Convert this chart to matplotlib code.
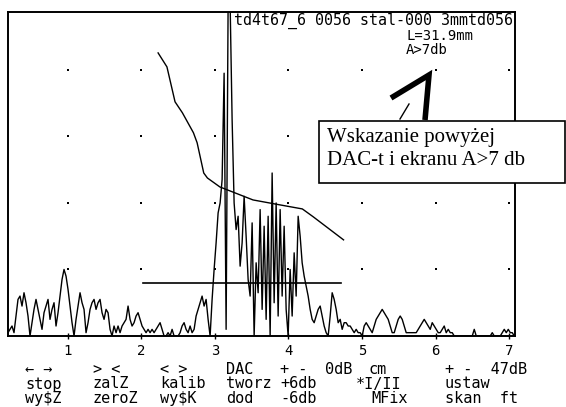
import numpy as np
import matplotlib.pyplot as plt
from matplotlib.lines import Line2D
from matplotlib.patches import Rectangle

# A-scan amplitude [% of screen], evenly sampled between x_first and x_last [cm]
amp = [
    1, 2, 3, 1, 6, 11, 12, 9, 13, 10,
    6, 0, 4, 8, 11, 8, 5, 2, 7, 9,
    11, 5, 8, 10, 3, 7, 12, 17, 20, 18,
    14, 9, 4, 0, 5, 9, 13, 10, 8, 1,
    4, 8, 10, 11, 8, 10, 11, 7, 5, 8,
    7, 2, 0, 3, 1, 3, 1, 3, 4, 5,
    9, 5, 3, 4, 6, 7, 5, 3, 2, 1,
    2, 1, 2, 1, 2, 3, 4, 2, 0, 0,
    1, 0, 2, 0, 0, 0, 1, 3, 4, 2,
    1, 3, 1, 2, 6, 8, 10, 12, 9, 11,
    5, 0, 11, 20, 28, 37, 40, 47, 79, 2,
    100, 100, 65, 40, 32, 36, 21, 28, 42, 30,
    17, 12, 34, 0, 22, 13, 38, 8, 33, 5,
    36, 0, 49, 10, 40, 6, 38, 12, 33, 8,
    0, 20, 6, 25, 12, 36, 30, 22, 18, 15,
    12, 8, 5, 4, 6, 8, 9, 6, 3, 1,
    0, 6, 13, 11, 8, 4, 5, 2, 4, 4,
    3, 3, 2, 1, 2, 1, 1, 0, 3, 4,
    3, 2, 1, 3, 5, 6, 7, 8, 7, 6,
    5, 3, 1, 1, 3, 5, 6, 5, 3, 1,
    1, 1, 1, 1, 1, 2, 3, 4, 5, 4,
    3, 2, 4, 3, 2, 1, 1, 2, 3, 1,
    2, 1, 1, 0, 0, 0, 0, 0, 0, 0,
    0, 0, 0, 2, 0, 0, 0, 0, 0, 0,
    0, 0, 1, 0, 0, 0, 0, 1, 2, 1,
    2, 1, 1, 0,
]
x_first, x_last = 0.19, 7.07

# DAC curve
dac_x = [2.23, 2.35, 2.46, 2.56, 2.71, 2.76, 2.85, 2.90, 3.07, 3.52, 3.89, 4.19, 4.34, 4.75]
dac_y = [85.1, 80.9, 70.4, 67.1, 61.1, 58.1, 49.0, 47.5, 44.8, 40.9, 39.4, 38.2, 35.8, 28.9]

# gate
gate_x = [2.03, 4.72]
gate_level = 15.9

grid_x = [1, 2, 3, 4, 5, 6, 7]
grid_y = [20, 40, 60, 80]

header = "td4t67_6 0056 stal-000 3mmtd056"
info = ["L=31.9mm", "A>7db"]
note = ["Wskazanie powyżej", "DAC-t i ekranu A>7 db"]

# soft-key menu: (x pixel, row, text)
menu = [
    (25, 0, "\u2190 \u2192"), (25, 1, "stop"), (25, 2, "wy$Z"),
    (93, 0, "> <"), (93, 1, "zalZ"), (93, 2, "zeroZ"),
    (160, 0, "< >"), (160, 1, "kalib"), (160, 2, "wy$K"),
    (226, 0, "DAC"), (226, 1, "tworz"), (226, 2, "dod"),
    (280, 0, "+ -"), (280, 1, "+6db"), (280, 2, "-6db"),
    (325, 0, "0dB"), (368, 0, "cm"), (356, 1, "*I/II"), (371, 2, "MFix"),
    (445, 0, "+ -  47dB"), (445, 1, "ustaw"), (445, 2, "skan  ft"),
]

W, H = 566, 407
def fx(px):
    return px / W
def fy(py):
    return 1 - py / H

mono = "DejaVu Sans Mono"

fig = plt.figure(figsize=(W / 100, H / 100), dpi=100)
ax = fig.add_axes([fx(8), fy(336), (515 - 8) / W, (336 - 12) / H])

x = np.linspace(x_first, x_last, len(amp))
ax.plot(x, amp, color="black", lw=1.0, zorder=3)
ax.plot(dac_x, dac_y, color="black", lw=1.0, zorder=3)
ax.plot(gate_x, [gate_level, gate_level], color="black", lw=1.2, zorder=3)

gx, gy = np.meshgrid(grid_x, grid_y)
ax.scatter(gx.ravel(), gy.ravel(), s=1.5, color="black", marker="s", lw=0, zorder=2)

ax.set_xlim(x_first, x_last + 0.01)
ax.set_ylim(0, 97.4)
ax.set_yticks([])
ax.set_xticks(grid_x)
ax.set_xticklabels([str(v) for v in grid_x], family=mono, fontsize=10)
ax.tick_params(axis="x", direction="inout", length=5, width=1, pad=3)
for s in ax.spines.values():
    s.set_linewidth(1.4)

ax.text(0.996, 0.998, header, transform=ax.transAxes, ha="right", va="top",
        family=mono, fontsize=10.8, zorder=1)
fig.text(fx(406), fy(36.5), info[0], ha="left", va="center", family=mono, fontsize=10)
fig.text(fx(406), fy(49.5), info[1], ha="left", va="center", family=mono, fontsize=10)

rows_y = [369.5, 384, 398.5]
for px, r, t in menu:
    fig.text(fx(px), fy(rows_y[r]), t, ha="left", va="center", family=mono, fontsize=11)

# callout box
box = Rectangle((fx(319), fy(183)), (565 - 319) / W, (183 - 121) / H,
                transform=fig.transFigure, facecolor="white", edgecolor="black",
                lw=1.2, zorder=5)
fig.add_artist(box)
fig.text(fx(327), fy(142), note[0], ha="left", va="baseline",
         family="Liberation Serif", fontsize=15, zorder=6)
fig.text(fx(327), fy(165), note[1], ha="left", va="baseline",
         family="Liberation Serif", fontsize=15, zorder=6)

# arrow: thin shaft with heavy open head
fig.add_artist(Line2D([fx(400), fx(409)], [fy(119), fy(104)], color="black", lw=1.0,
                      transform=fig.transFigure))
fig.add_artist(Line2D([fx(391), fx(429), fx(425)], [fy(98), fy(75), fy(120)],
                      color="black", lw=4, solid_joinstyle="miter",
                      solid_capstyle="butt", transform=fig.transFigure))

fig.savefig("out.png", dpi=100)
